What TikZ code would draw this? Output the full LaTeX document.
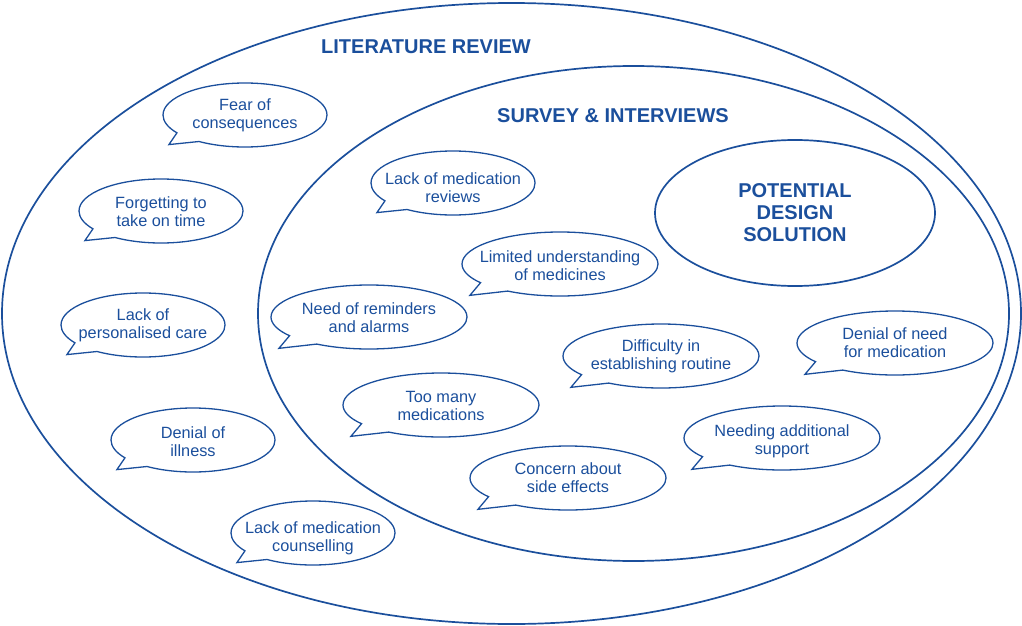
\documentclass[tikz,border=0pt]{standalone}
\usepackage{fontspec}
\setmainfont{Liberation Sans}
\usetikzlibrary{shapes.geometric,shapes.callouts}
\definecolor{navy}{RGB}{27,79,156}

\begin{document}
\begin{tikzpicture}[x=1pt,y=-1pt,
    ring/.style={draw=navy, line width=1.7pt, ellipse, inner sep=0pt},
    bubble/.style={draw=navy, line width=1.3pt, ellipse callout, inner sep=0pt,
        minimum height=64, callout pointer arc=22},
    shortbub/.style={bubble, minimum width=164, callout relative pointer={(-18,7)}},
    longbub/.style={bubble, minimum width=196, callout relative pointer={(-23,8)}},
    txt/.style={text=navy, align=center, font=\fontsize{16.3}{18}\selectfont},
    head/.style={text=navy, align=center, font=\fontsize{20}{22}\selectfont\bfseries}]
    \useasboundingbox (0,0) rectangle (1022,626);
    % the three rings
    \node[ring, minimum width=1019, minimum height=621] (litrev) at (511.5,313.5) {};
    \node[ring, minimum width=751, minimum height=495] (survey) at (633.5,313.5) {};
    \node[ring, minimum width=280, minimum height=146, head] (design) at (795,213)
        {POTENTIAL\\DESIGN\\SOLUTION};
    \node[head] (litrev-t) at (426,47) {LITERATURE REVIEW};
    \node[head] (survey-t) at (613,116) {SURVEY \& INTERVIEWS};
    % literature review only
    \node[shortbub] (fear) at (245,115) {};
    \node[txt] (fear-t) at (fear) {Fear of\\consequences};
    \node[shortbub] (forget) at (161,211) {};
    \node[txt] (forget-t) at ([yshift=-1]forget) {Forgetting to\\take on time};
    \node[shortbub] (care) at (143,325) {};
    \node[txt] (care-t) at (care) {Lack of\\personalised care};
    \node[shortbub] (illness) at (193,440) {};
    \node[txt] (illness-t) at ([yshift=-2]illness) {Denial of\\illness};
    \node[shortbub] (counsel) at (313,533) {};
    \node[txt] (counsel-t) at ([yshift=-5]counsel) {Lack of medication\\counselling};
    % survey and interviews
    \node[shortbub] (reviews) at (453,183) {};
    \node[txt] (reviews-t) at ([yshift=-5]reviews) {Lack of medication\\reviews};
    \node[longbub] (understand) at (560,264) {};
    \node[txt] (understand-t) at ([yshift=-2]understand) {Limited understanding\\of medicines};
    \node[longbub] (remind) at (369,317) {};
    \node[txt] (remind-t) at ([yshift=-1]remind) {Need of reminders\\and alarms};
    \node[longbub] (routine) at (661,356) {};
    \node[txt] (routine-t) at (routine) {Difficulty in\\establishing routine};
    \node[longbub] (needdeny) at (895,343) {};
    \node[txt] (needdeny-t) at (needdeny) {Denial of need\\for medication};
    \node[longbub] (toomany) at (441,405) {};
    \node[txt] (toomany-t) at ([yshift=-1]toomany) {Too many\\medications};
    \node[longbub] (support) at (782,438) {};
    \node[txt] (support-t) at ([yshift=-3]support) {Needing additional\\support};
    \node[longbub] (sidefx) at (568,478) {};
    \node[txt] (sidefx-t) at (sidefx) {Concern about\\side effects};
\end{tikzpicture}
\end{document}
